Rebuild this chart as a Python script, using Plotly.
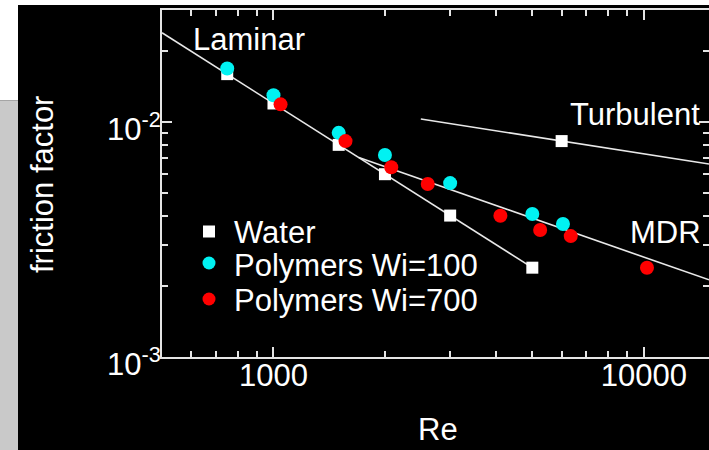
import plotly.graph_objects as go

# ---- data -------------------------------------------------------------
water_re = [750, 1000, 1500, 2000, 3000, 5000, 6000]
water_f = [0.016, 0.012, 0.008, 0.006, 0.004, 0.0024, 0.0083]

wi100_re = [750, 1000, 1500, 2000, 3000, 5000, 6050]
wi100_f = [0.0169, 0.0130, 0.0090, 0.00724, 0.0055, 0.00406, 0.00368]

wi700_re = [1045, 1565, 2080, 2610, 4100, 5250, 6350, 10200]
wi700_f = [0.0119, 0.0083, 0.00642, 0.00545, 0.00399, 0.00347, 0.00327, 0.0024]

# reference curves (straight in log-log), given by their end points
laminar_re = [500, 5000]
laminar_f = [0.024, 0.0024]
turbulent_re = [2500, 15000]
turbulent_f = [0.0103, 0.00663]
mdr_re = [1700, 15000]
mdr_f = [0.00706, 0.00213]

x_major = [1000, 10000]
x_major_text = ["1000", "10000"]
x_minor = [600, 700, 800, 900, 2000, 3000, 4000, 5000, 6000, 7000, 8000, 9000]
y_major = [0.001, 0.01]
y_major_text = ["10<sup>-3</sup>", "10<sup>-2</sup>"]
y_minor = [0.002, 0.003, 0.004, 0.005, 0.006, 0.007, 0.008, 0.009, 0.02]

# ---- layout geometry ---------------------------------------------------
W, H = 709, 450
L, R, T, B = 162, 0, 10, 93
PW, PH = W - L - R, H - T - B


def px(xp):
    return (xp - L) / PW


def py(yp):
    return (H - B - yp) / PH


FONT = "Liberation Sans, Arial, Helvetica, sans-serif"
FG = "#ffffff"
AX = "#e4e4e4"
FS = 31

fig = go.Figure()

line_style = dict(color="#e8e8e8", width=1.6)
for xs, ys in [(laminar_re, laminar_f), (turbulent_re, turbulent_f), (mdr_re, mdr_f)]:
    fig.add_trace(go.Scatter(x=xs, y=ys, mode="lines", line=line_style,
                             showlegend=False, hoverinfo="skip"))

fig.add_trace(go.Scatter(x=water_re, y=water_f, mode="markers", name="Water",
                         marker=dict(symbol="square", size=12, color="white",
                                     line=dict(width=0)), showlegend=False))
fig.add_trace(go.Scatter(x=wi100_re, y=wi100_f, mode="markers", name="Polymers Wi=100",
                         marker=dict(symbol="circle", size=14, color="#00f2f2",
                                     line=dict(width=0)), showlegend=False))
fig.add_trace(go.Scatter(x=wi700_re, y=wi700_f, mode="markers", name="Polymers Wi=700",
                         marker=dict(symbol="circle", size=14, color="#ff0000",
                                     line=dict(width=0)), showlegend=False))

axis_common = dict(
    type="log", showgrid=False, zeroline=False, showline=True, linecolor=AX,
    linewidth=2, mirror="allticks", ticks="inside", ticklen=10, tickwidth=1.5,
    tickcolor=AX, tickfont=dict(family=FONT, size=FS, color=FG),
)

fig.update_xaxes(
    **axis_common, range=[2.69897, 4.17609], tickmode="array",
    tickvals=x_major, ticktext=x_major_text, ticklabelstandoff=-10,
    minor=dict(tickvals=x_minor, ticks="inside", ticklen=6, tickwidth=1.5, tickcolor=AX),
)
fig.update_yaxes(
    **axis_common, range=[-3, -1.52288], tickmode="array",
    tickvals=y_major, ticktext=y_major_text, ticklabelstandoff=-7, ticklabelshift=7,
    minor=dict(tickvals=y_minor, ticks="inside", ticklen=6, tickwidth=1.5, tickcolor=AX),
)

shapes = [
    # light strips framing the slide
    dict(type="rect", xref="paper", yref="paper", x0=px(0), x1=px(W), y0=py(5), y1=py(-1),
         fillcolor="white", line=dict(width=0), layer="below"),
    dict(type="rect", xref="paper", yref="paper", x0=px(0), x1=px(18), y0=py(100.5), y1=py(-1),
         fillcolor="white", line=dict(width=0), layer="below"),
    dict(type="rect", xref="paper", yref="paper", x0=px(0), x1=px(18), y0=py(H + 1), y1=py(100.5),
         fillcolor="#c9c9c9", line=dict(width=0), layer="below"),
    # legend symbols
    dict(type="rect", xref="paper", yref="paper", x0=px(203), x1=px(215), y0=py(237.5), y1=py(225.5),
         fillcolor="white", line=dict(width=0)),
    dict(type="circle", xref="paper", yref="paper", x0=px(202.5), x1=px(215.5), y0=py(269.5), y1=py(256.5),
         fillcolor="#00f2f2", line=dict(width=0)),
    dict(type="circle", xref="paper", yref="paper", x0=px(202.5), x1=px(215.5), y0=py(305.5), y1=py(292.5),
         fillcolor="#ff0000", line=dict(width=0)),
]

annotations = []


def label(text, x, y, xanchor="center", angle=0):
    annotations.append(dict(text=text, xref="paper", yref="paper", x=px(x), y=py(y),
                            xanchor=xanchor, yanchor="middle", showarrow=False,
                            textangle=angle, font=dict(family=FONT, size=FS, color=FG)))


label("Laminar", 249, 40)
label("Turbulent", 635, 115)
label("MDR", 665, 233)
label("Water", 232, 233, xanchor="left")
label("Polymers Wi=100", 232, 265, xanchor="left")
label("Polymers Wi=700", 232, 300, xanchor="left")
label("Re", 438, 429)
label("friction factor", 42, 185, angle=-90)

fig.update_layout(
    width=W, height=H, margin=dict(l=L, r=R, t=T, b=B, autoexpand=False),
    paper_bgcolor="black", plot_bgcolor="black",
    shapes=shapes, annotations=annotations, showlegend=False,
    font=dict(family=FONT, color=FG),
)

fig.write_html("out.html")
